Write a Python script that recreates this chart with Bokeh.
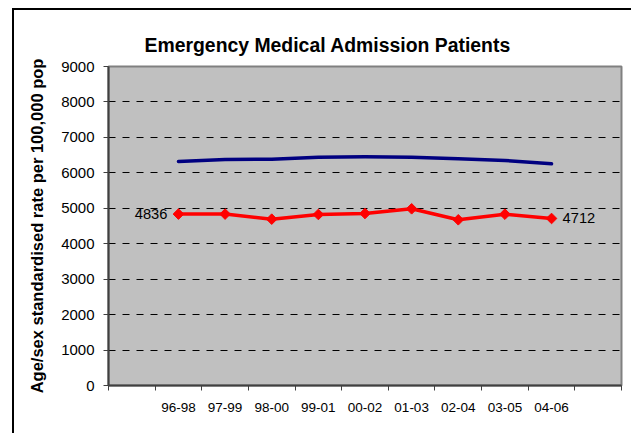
from bokeh.plotting import figure
from bokeh.models import FixedTicker, Range1d
from bokeh.embed import file_html
from bokeh.resources import INLINE
from bokeh.core.properties import value
import math

# ---- data ----
periods = ["96-98", "97-99", "98-00", "99-01", "00-02", "01-03", "02-04", "03-05", "04-06"]
admission_rate = [4836, 4836, 4693, 4825, 4853, 4985, 4675, 4834, 4712]
comparison_rate = [6320, 6377, 6386, 6442, 6452, 6442, 6396, 6349, 6255]
y_ticks = [0, 1000, 2000, 3000, 4000, 5000, 6000, 7000, 8000, 9000]

FONT = "Liberation Sans"
xs = list(range(len(periods)))
n_slots = len(periods) + 2

p = figure(frame_width=513, frame_height=319, output_backend="svg", toolbar_location=None,
           x_range=Range1d(-1.5, len(periods) + 0.5), y_range=Range1d(0, 9000),
           min_border_left=94, min_border_top=56, min_border_bottom=48, min_border_right=10)

# outer chart border (left and top edges; the rest lies beyond the picture)
p.margin = (8, 0, 0, 12)
p.styles = {"border-left": "2px solid black", "border-top": "2px solid black",
            "border-right": "0px none", "border-bottom": "0px none"}

p.background_fill_color = "#C0C0C0"
p.border_fill_color = "white"
p.outline_line_color = "#808080"
p.outline_line_width = 2

# title
p.title.text = "Emergency Medical Admission Patients"
p.title.align = "left"
p.title.offset = 36
p.title.text_font = FONT
p.title.text_font_size = "19.4px"
p.title.text_font_style = "bold"
p.title.text_color = "black"
p.title.standoff = 22

# grid
p.xgrid.grid_line_color = None
p.ygrid.grid_line_color = "black"
p.ygrid.grid_line_dash = "7 7"
p.ygrid.grid_line_width = 1

# x axis
p.xaxis.ticker = FixedTicker(ticks=xs, minor_ticks=[-1.5 + k for k in range(n_slots + 1)])
p.xaxis.major_label_overrides = {i: lab for i, lab in enumerate(periods)}
p.xaxis.major_tick_out = 0
p.xaxis.major_tick_in = 0
p.xaxis.minor_tick_out = 5
p.xaxis.minor_tick_in = 0
p.xaxis.minor_tick_line_color = "#404040"
p.xaxis.axis_line_color = "#404040"
p.xaxis.axis_line_width = 2
p.xaxis.major_label_text_font = FONT
p.xaxis.major_label_text_font_size = "13.5px"
p.xaxis.major_label_text_color = "black"
p.xaxis.major_label_standoff = 12

# y axis
p.yaxis.ticker = FixedTicker(ticks=y_ticks, minor_ticks=[])
p.yaxis.major_tick_out = 5
p.yaxis.major_tick_in = 0
p.yaxis.major_tick_line_color = "#404040"
p.yaxis.axis_line_color = "#404040"
p.yaxis.axis_line_width = 2
p.yaxis.major_label_text_font = FONT
p.yaxis.major_label_text_font_size = "15px"
p.yaxis.major_label_text_color = "black"
p.yaxis.major_label_standoff = 9
p.yaxis.axis_label = "Age/sex standardised rate per 100,000 pop"
p.yaxis.axis_label_text_font = FONT
p.yaxis.axis_label_text_font_size = "16.5px"
p.yaxis.axis_label_text_font_style = "bold"
p.yaxis.axis_label_text_color = "black"
p.yaxis.axis_label_standoff = 12

# series
p.line(xs, comparison_rate, line_color="#000080", line_width=3.5, line_join="round", line_cap="round")
p.line(xs, admission_rate, line_color="#FF0000", line_width=3.5, line_join="round")
p.scatter(xs, admission_rate, marker="square", angle=math.pi / 4, size=7.5,
          fill_color="#FF0000", line_color="#FF0000")

# end labels
p.text([xs[0]], [admission_rate[0]], text=[str(admission_rate[0])], text_align="right",
       text_baseline="middle", x_offset=-11, text_font=value(FONT), text_font_size="14.7px",
       text_color="black")
p.text([xs[-1]], [admission_rate[-1]], text=[str(admission_rate[-1])], text_align="left",
       text_baseline="middle", x_offset=11, text_font=value(FONT), text_font_size="14.7px",
       text_color="black")

open("out.html", "w").write(file_html(p, INLINE))
